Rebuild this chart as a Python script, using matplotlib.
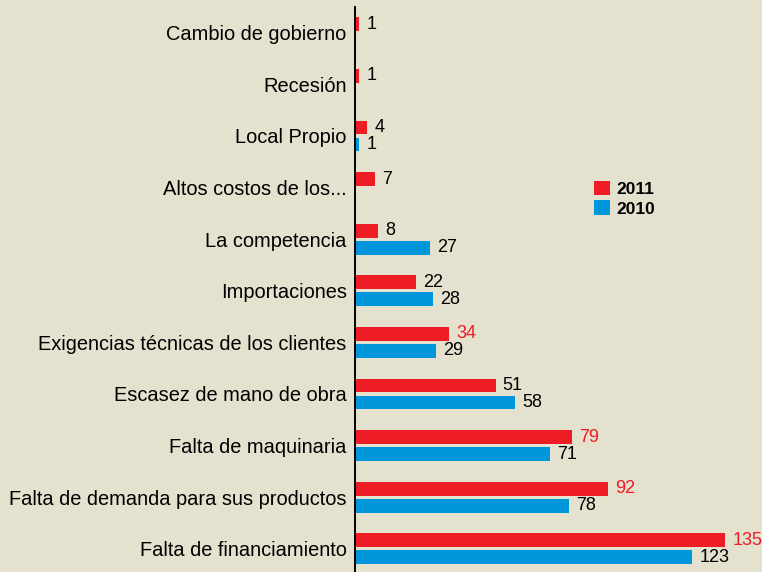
import numpy as np
import matplotlib.pyplot as plt

plt.rcParams['font.family'] = ['Liberation Sans', 'DejaVu Sans']

# categories from bottom to top
categories = ['Falta de financiamiento', 'Falta de demanda para sus productos',
              'Falta de maquinaria', 'Escasez de mano de obra',
              'Exigencias técnicas de los clientes', 'Importaciones',
              'La competencia', 'Altos costos de los...', 'Local Propio',
              'Recesión', 'Cambio de gobierno']
v2011 = [135, 92, 79, 51, 34, 22, 8, 7, 4, 1, 1]
v2010 = [123, 78, 71, 58, 29, 28, 27, 0, 1, 0, 0]
red_labels = [True, True, True, False, True, False, False, False, False, False, False]

bg = '#e4e1cf'
red = '#ee1c25'
blue = '#0096db'

fig = plt.figure(figsize=(7.62, 5.72), dpi=100, facecolor=bg)
ax = fig.add_axes([355 / 762, 0, 1 - 355 / 762, 565 / 572])
ax.set_facecolor(bg)

for s in ['top', 'right', 'bottom']:
    ax.spines[s].set_visible(False)
ax.spines['left'].set_linewidth(1.4)
ax.spines['left'].set_position(('data', -0.5))

y = np.arange(len(categories))
h = 0.27
off = 0.165
ax.barh(y + off, v2011, height=h, color=red, label='2011')
ax.barh(y - off, v2010, height=h, color=blue, label='2010')

for i in y:
    c = red if red_labels[i] else 'black'
    ax.text(v2011[i] + 2.6, i + off, str(v2011[i]), va='center', ha='left',
            fontsize=13, color=c)
    if v2010[i] > 0:
        ax.text(v2010[i] + 2.6, i - off, str(v2010[i]), va='center', ha='left',
                fontsize=13, color='black')

ax.set_yticks(y)
ax.set_yticklabels(categories, fontsize=14.4)
ax.tick_params(axis='y', length=0, pad=6)
ax.set_xticks([])
ax.set_xlim(-0.5, 148.5)
ax.set_ylim(-0.45, 10.5)

leg = ax.legend(loc='upper left', bbox_to_anchor=(0.55, 0.72), frameon=False,
                handlelength=0.9, handleheight=0.9, handletextpad=0.35,
                labelspacing=0.2, prop={'weight': 'bold', 'size': 12.5})

fig.savefig('out.png', dpi=100, facecolor=bg)
